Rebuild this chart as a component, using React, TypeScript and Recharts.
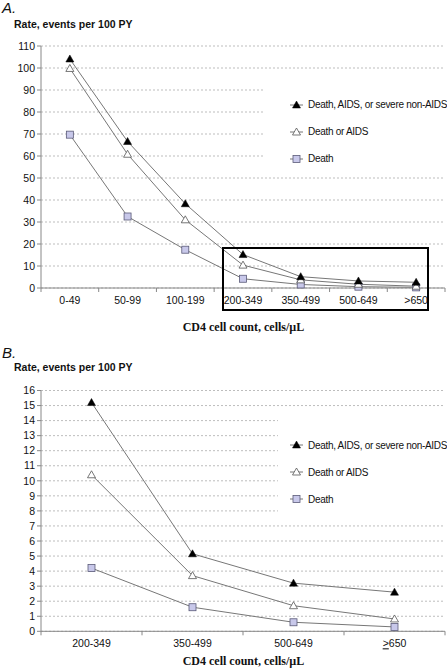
import { LineChart, Line, XAxis, YAxis, CartesianGrid, Legend } from 'recharts'

const catsA = ['0-49', '50-99', '100-199', '200-349', '350-499', '500-649', '>650']
const severeA = [104.1, 66.6, 38.3, 15.2, 5.15, 3.2, 2.6]
const deathAidsA = [99.8, 60.8, 31.0, 10.4, 3.7, 1.7, 0.82]
const deathA = [69.7, 32.5, 17.4, 4.2, 1.6, 0.6, 0.29]
const ticksA = [0, 10, 20, 30, 40, 50, 60, 70, 80, 90, 100, 110]

const catsB = ['200-349', '350-499', '500-649', '≥650']
const severeB = [15.2, 5.15, 3.2, 2.6]
const deathAidsB = [10.4, 3.7, 1.7, 0.82]
const deathB = [4.2, 1.6, 0.6, 0.29]
const ticksB = [0, 1, 2, 3, 4, 5, 6, 7, 8, 9, 10, 11, 12, 13, 14, 15, 16]

const seriesNames = ['Death, AIDS, or severe non-AIDS', 'Death or AIDS', 'Death']

const dataA = catsA.map((c, i) => ({ cat: c, severe: severeA[i], deathAids: deathAidsA[i], death: deathA[i] }))
const dataB = catsB.map((c, i) => ({ cat: c, severe: severeB[i], deathAids: deathAidsB[i], death: deathB[i] }))

const SANS = '"Liberation Sans", Arial, sans-serif'
const SERIF = '"Liberation Serif", "Times New Roman", serif'
const LINE = '#777'

const FilledTri = ({ cx, cy }: any) => (
  <path d={`M${cx},${cy - 4}L${cx - 4},${cy + 3}L${cx + 4},${cy + 3}Z`} fill="#000" stroke="#000" strokeWidth={0.5} />
)
const OpenTri = ({ cx, cy }: any) => (
  <path d={`M${cx},${cy - 4}L${cx - 4},${cy + 3}L${cx + 4},${cy + 3}Z`} fill="#fff" stroke="#555" strokeWidth={0.8} />
)
const Square = ({ cx, cy }: any) => (
  <rect x={cx - 3.5} y={cy - 3.5} width={7} height={7} fill="#c8c8ea" stroke="#5a5a78" strokeWidth={0.8} />
)

const markers = [FilledTri, OpenTri, Square]

// legend: short line with marker, text starting at page x = 308
function LegendBox({ padTop, lineStart }: { padTop: number; lineStart: number }) {
  return (
    <div style={{ background: '#fff', paddingTop: padTop, fontFamily: SANS, fontSize: 10, letterSpacing: -0.3, color: '#111' }}>
      {seriesNames.map((name, i) => {
        const M = markers[i]
        return (
          <div key={name} style={{ height: 27, display: 'flex', alignItems: 'center' }}>
            <svg width={lineStart + 18} height={12} style={{ flex: 'none' }}>
              <line x1={lineStart} y1={6} x2={lineStart + 13} y2={6} stroke={LINE} />
              <M cx={lineStart + 6.5} cy={6} />
            </svg>
            <span style={{ whiteSpace: 'nowrap' }}>{name}</span>
          </div>
        )
      })}
    </div>
  )
}

function CatTick({ x, y, payload, index, bw, n }: any) {
  const label: string = payload.value
  const under = label.startsWith('≥')
  return (
    <g>
      <line x1={x - bw / 2} y1={y - 8} x2={x - bw / 2} y2={y - 4} stroke="#888" />
      {index === n - 1 && <line x1={x + bw / 2} y1={y - 8} x2={x + bw / 2} y2={y - 4} stroke="#888" />}
      <text x={x} y={y + 8} textAnchor="middle" fontSize={10.5} fontFamily={SANS} fill="#111">
        {under ? (
          <>
            <tspan textDecoration="underline">&gt;</tspan>
            {label.slice(1)}
          </>
        ) : (
          label
        )}
      </text>
    </g>
  )
}

function Chart({ data, cats, ticks, max, height, top, bottom, legendLeft, legendTop, legendPad }: any) {
  const bw = 404 / cats.length
  return (
    <LineChart width={447} height={height} data={data} margin={{ top, right: 2, left: 0, bottom }}>
      <CartesianGrid vertical={false} stroke="#bdbdbd" strokeDasharray="2 2" />
      <XAxis
        dataKey="cat"
        scale="band"
        stroke="#888"
        tickLine={false}
        height={20}
        interval={0}
        tick={(p: any) => <CatTick {...p} bw={bw} n={cats.length} />}
      />
      <YAxis
        width={41}
        domain={[0, max]}
        ticks={ticks}
        interval={0}
        stroke="#888"
        tickSize={4}
        tick={{ fontSize: 10.5, fontFamily: SANS, fill: '#111' }}
      />
      <Legend
        layout="vertical"
        align="center"
        verticalAlign="middle"
        wrapperStyle={{ left: legendLeft, top: legendTop, width: 447 - legendLeft }}
        content={() => <LegendBox padTop={legendPad} lineStart={290 - legendLeft} />}
      />
      <Line dataKey="death" stroke={LINE} strokeWidth={1} dot={(p: any) => <Square key={p.index} {...p} />} isAnimationActive={false} />
      <Line dataKey="deathAids" stroke={LINE} strokeWidth={1} dot={(p: any) => <OpenTri key={p.index} {...p} />} isAnimationActive={false} />
      <Line dataKey="severe" stroke={LINE} strokeWidth={1} dot={(p: any) => <FilledTri key={p.index} {...p} />} isAnimationActive={false} />
    </LineChart>
  )
}

const abs = (left: number, top: number, extra: any = {}) => ({ position: 'absolute' as const, left, top, ...extra })

export default function App() {
  return (
    <div style={{ position: 'absolute', left: 0, top: 0, width: 447, height: 669, background: '#fff', overflow: 'hidden' }}>
      <div style={abs(2, -1, { fontFamily: SANS, fontStyle: 'italic', fontSize: 15, color: '#111' })}>A.</div>
      <div style={abs(14, 18, { fontFamily: SANS, fontWeight: 'bold', fontSize: 10.5, color: '#111' })}>Rate, events per 100 PY</div>
      <div style={abs(0, 0)}>
        <Chart data={dataA} cats={catsA} ticks={ticksA} max={110} height={320} top={46} bottom={12} legendLeft={265} legendTop={80} legendPad={11} />
      </div>
      <div style={abs(222, 247, { width: 207, height: 64, border: '2px solid #000', boxSizing: 'border-box' })} />
      <div style={abs(0, 320, { width: 487, textAlign: 'center', fontFamily: SERIF, fontWeight: 'bold', fontSize: 12, color: '#111' })}>
        CD4 cell count, cells/µL
      </div>

      <div style={abs(2, 344, { fontFamily: SANS, fontStyle: 'italic', fontSize: 15, color: '#111' })}>B.</div>
      <div style={abs(14, 361, { fontFamily: SANS, fontWeight: 'bold', fontSize: 10.5, color: '#111' })}>Rate, events per 100 PY</div>
      <div style={abs(0, 345)}>
        <Chart data={dataB} cats={catsB} ticks={ticksB} max={16} height={324} top={45.5} bottom={17.7} legendLeft={278} legendTop={67} legendPad={19.5} />
      </div>
      <div style={abs(0, 654, { width: 487, textAlign: 'center', fontFamily: SERIF, fontWeight: 'bold', fontSize: 12, color: '#111' })}>
        CD4 cell count, cells/µL
      </div>
    </div>
  )
}
